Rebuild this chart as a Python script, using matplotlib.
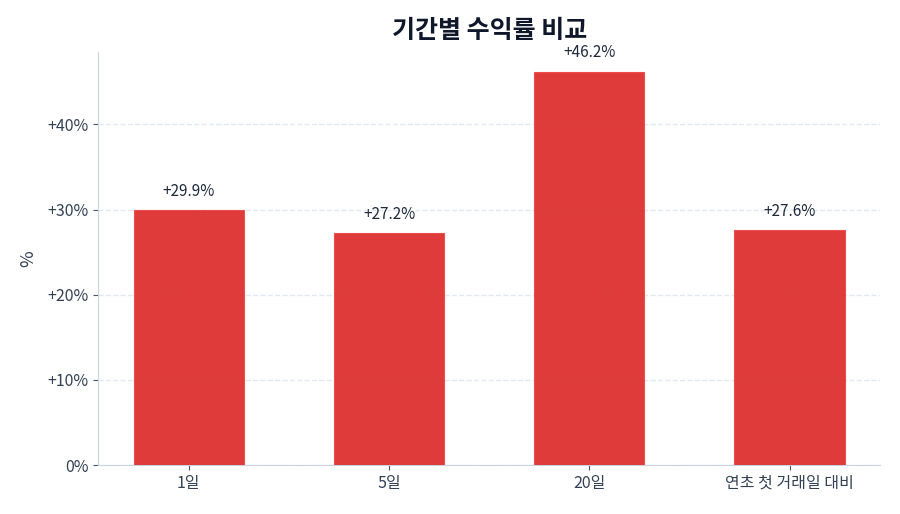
import matplotlib
matplotlib.use("Agg")
import matplotlib.pyplot as plt
from matplotlib.ticker import FuncFormatter

plt.rcParams['font.family'] = ['Noto Sans CJK KR', 'DejaVu Sans']

categories = ["1일", "5일", "20일", "연초 첫 거래일 대비"]
values = [29.9, 27.2, 46.2, 27.6]
title = "기간별 수익률 비교"

text_color = "#334155"
fig, ax = plt.subplots(figsize=(9, 5.14), dpi=100)
fig.subplots_adjust(left=0.109, right=0.978, top=0.899, bottom=0.095)

bars = ax.bar(categories, values, width=0.55, color="#dc2626", alpha=0.9,
              edgecolor="#ef4444", linewidth=0.8, zorder=3)
for b, v in zip(bars, values):
    ax.annotate(f"{v:+.1f}%", (b.get_x() + b.get_width() / 2, v),
                xytext=(0, 7.5), textcoords="offset points", ha="center", va="bottom",
                fontsize=11, color="#1e293b")

ax.set_ylim(0, max(values) * 1.05)
ax.yaxis.set_major_formatter(FuncFormatter(lambda y, _: f"{y:+.0f}%" if y != 0 else "0%"))
ax.set_ylabel("%", fontsize=13, color=text_color, labelpad=7)
ax.set_title(title, fontsize=18, fontweight="bold", color="#0f172a", pad=10)

ax.grid(axis="y", linestyle="--", color="#e2e8f0", linewidth=1, zorder=0)
ax.set_axisbelow(True)
for s in ["top", "right"]:
    ax.spines[s].set_visible(False)
for s in ["left", "bottom"]:
    ax.spines[s].set_color("#cbd5e1")
ax.tick_params(axis="both", colors=text_color, labelsize=11.5, labelcolor=text_color)
ax.tick_params(axis="both", color="#475569")

fig.savefig("out.png", dpi=100)
